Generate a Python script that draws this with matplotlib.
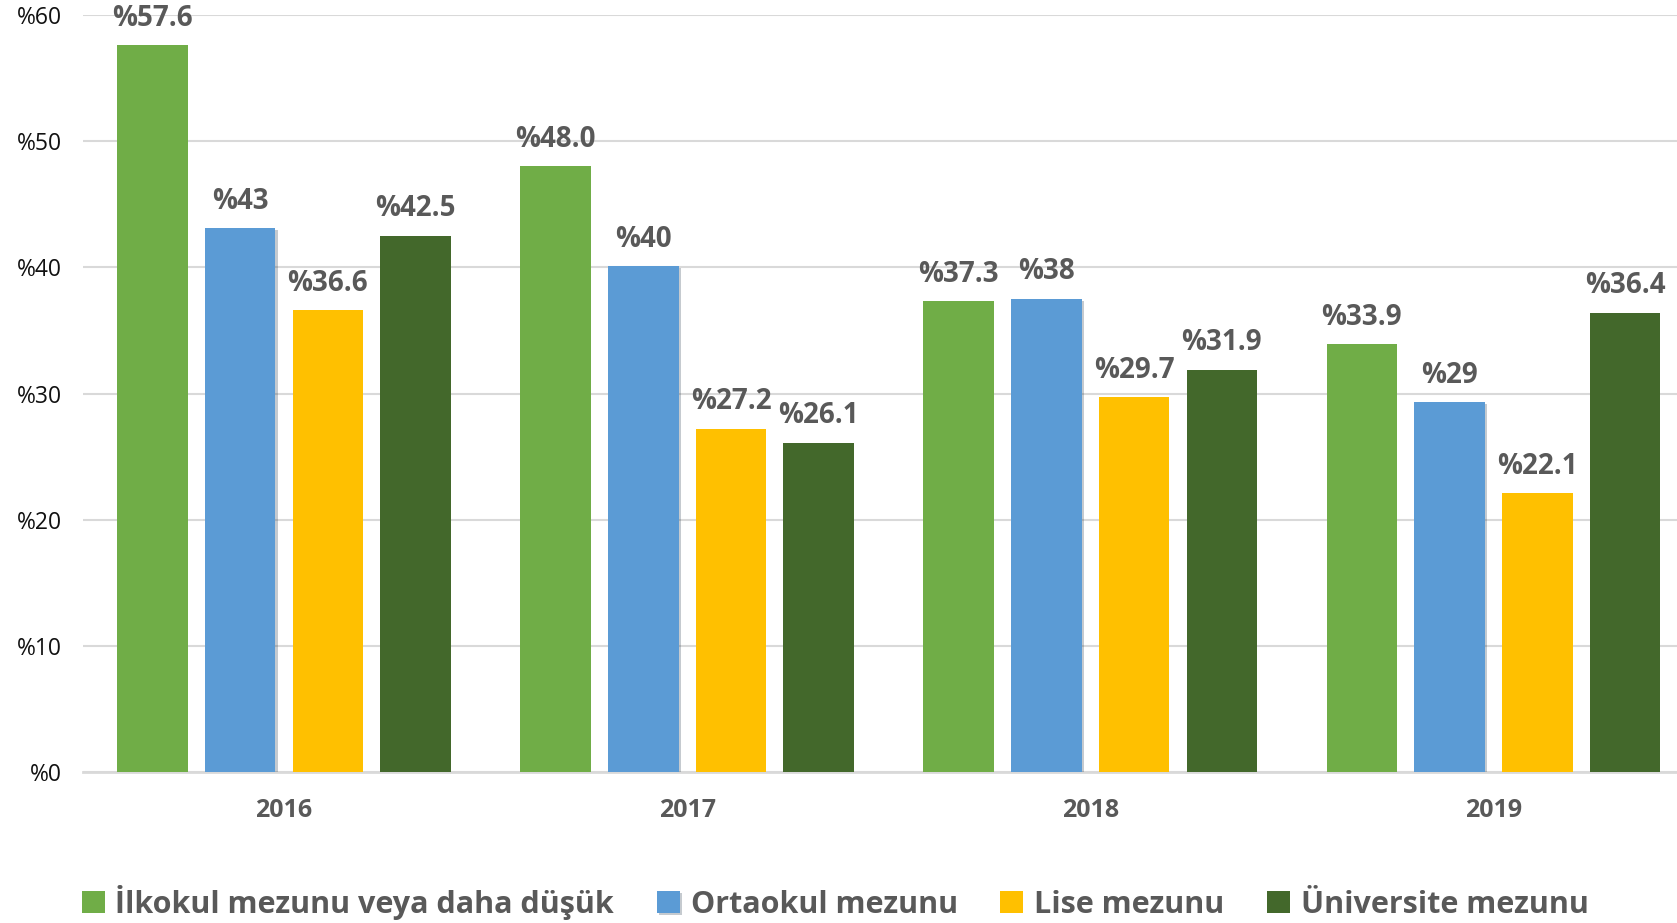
import matplotlib; matplotlib.use("Agg")
import matplotlib.pyplot as plt
import matplotlib.patheffects as pe
import numpy as np

plt.rcParams["font.family"] = ["Open Sans", "DejaVu Sans"]

years = ["2016", "2017", "2018", "2019"]
series = ["İlkokul mezunu veya daha düşük", "Ortaokul mezunu", "Lise mezunu", "Üniversite mezunu"]
colors = ["#70AD47", "#5B9BD5", "#FFC000", "#43682B"]
ilkokul = [57.6, 48.0, 37.3, 33.9]
ortaokul = [43.1, 40.1, 37.5, 29.3]
lise = [36.6, 27.2, 29.7, 22.1]
universite = [42.5, 26.1, 31.9, 36.4]
ilkokul_lbl = ["%57.6", "%48.0", "%37.3", "%33.9"]
ortaokul_lbl = ["%43", "%40", "%38", "%29"]
lise_lbl = ["%36.6", "%27.2", "%29.7", "%22.1"]
universite_lbl = ["%42.5", "%26.1", "%31.9", "%36.4"]
yticks = [0, 10, 20, 30, 40, 50, 60]

vals = [ilkokul, ortaokul, lise, universite]
lbls = [ilkokul_lbl, ortaokul_lbl, lise_lbl, universite_lbl]

fig = plt.figure(figsize=(16.77, 9.23), dpi=100)
ax = fig.add_axes([0.0492, 0.1636, 1.0107 - 0.0492, 0.9837 - 0.1636])
x = np.arange(len(years))
step, w = 0.2176, 0.175
GRAY = "#595959"
for j, (v, lb) in enumerate(zip(vals, lbls)):
    xs = x + (j - 1.5) * step
    bars = ax.bar(xs, v, width=w, color=colors[j], label=series[j], zorder=3)
    if j == 1:  # blue bars carry a soft shadow in the original
        for b in bars:
            b.set_path_effects([pe.SimplePatchShadow(offset=(1.5, -1.5), alpha=0.25), pe.Normal()])
    for b, t in zip(bars, lb):
        ax.annotate(t, (b.get_x() + b.get_width() / 2, b.get_height()), xytext=(0, 9),
                    textcoords="offset points", ha="center", va="bottom",
                    fontsize=20, fontweight="bold", color=GRAY)

ax.set_xlim(-0.5, 3.5); ax.set_ylim(0, 60)
ax.set_yticks(yticks); ax.set_yticklabels([f"%{t}" for t in yticks], fontsize=16.5, color="#111111")
ax.set_xticks(x); ax.set_xticklabels(years, fontsize=18, fontweight="bold", color=GRAY)
ax.tick_params(axis="y", length=0, pad=15)
ax.tick_params(axis="x", length=0, pad=19)
ax.grid(axis="y", color="#D9D9D9", linewidth=1.5, zorder=0)
for s in ["top", "right", "left"]: ax.spines[s].set_visible(False)
ax.spines["bottom"].set_color("#D9D9D9"); ax.spines["bottom"].set_linewidth(2)

fig.legend(loc="center", bbox_to_anchor=(0.498, 0.0227), ncol=4, frameon=False,
           prop={"size": 22, "weight": "bold"}, labelcolor=GRAY,
           handlelength=0.75, handleheight=0.75, handletextpad=0.35, columnspacing=1.4)
fig.savefig("out.png", dpi=100)
